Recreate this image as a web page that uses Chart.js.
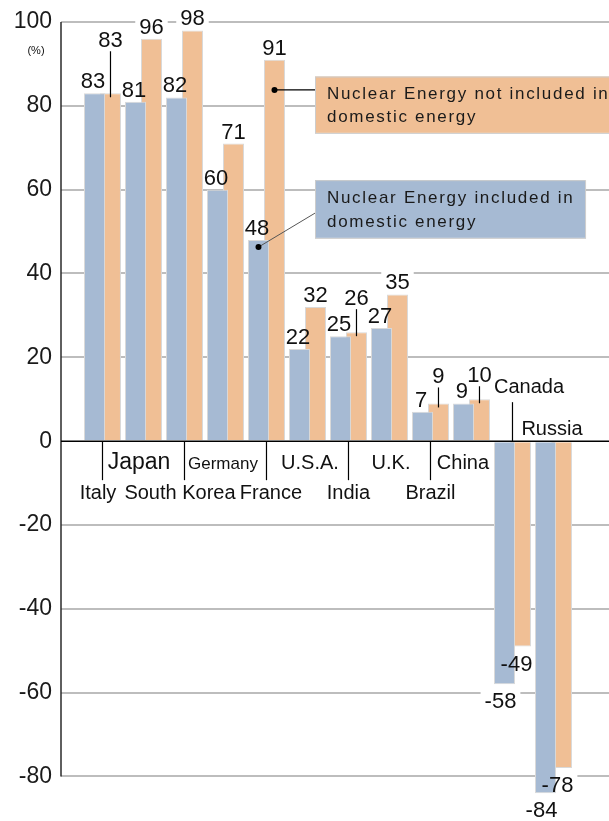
<!DOCTYPE html>
<html>
<head>
<meta charset="utf-8">
<script src="https://cdn.jsdelivr.net/npm/chart.js@4.4.1/dist/chart.umd.min.js"></script>
<style>
    body { margin: 0; background: #fff; }
    #wrap { width: 609px; height: 821px; }
</style>
</head>
<body>
<div id="wrap"><canvas id="myChart"></canvas></div>
<script>
// data
var countries = ["Italy", "Japan", "South Korea", "Germany", "France", "U.S.A.", "India", "U.K.", "Brazil", "China", "Canada", "Russia"];
var included = [83, 81, 82, 60, 48, 22, 25, 27, 7, 9, -58, -84];
var notIncluded = [83, 96, 98, 71, 91, 32, 26, 35, 9, 10, -49, -78];
var yTicks = [100, 80, 60, 40, 20, 0, -20, -40, -60, -80];
var includedText = ["Nuclear Energy included in", "domestic energy"];
var notIncludedText = ["Nuclear Energy not included in", "domestic energy"];

var blue = "#a6bad3";
var orange = "#f0bf95";
var font = "'Liberation Sans', Arial, sans-serif";

// where the country names go: 1 first row, 2 second row with a pointer, 0 above the axis
var nameRow = [2, 1, 2, 1, 2, 1, 2, 1, 2, 1, 0, 0];
var nameShift = [-4.5, -4.5, -4.5, -2.5, 4.5, 2.5, 0, 1.5, 0, -8.5, 16.5, -1.5];
var nameSize = [20, 23, 20, 17, 20, 20, 20, 20, 20, 20, 20, 20];
// orange labels lifted up with a pointer line
var lifted = { 0: 41, 6: 22, 8: 15, 9: 12 };

function valueSpots(chart) {
    var spots = [];
    [included, notIncluded].forEach(function (values, d) {
        var bars = chart.getDatasetMeta(d).data;
        values.forEach(function (v, i) {
            var bar = bars[i];
            var s = { text: String(v), x: bar.x, base: 0, lead: null };
            if (v >= 0) {
                var lift = d === 1 ? (lifted[i] || 0) : 0;
                if (d === 0) s.x -= 1.5;
                s.base = bar.y - 5 - lift;
                if (lift) s.lead = [s.base + 4, bar.y + 4];
            } else {
                s.x -= 4;
                s.base = bar.y + 24;
            }
            spots.push(s);
        });
    });
    return spots;
}

var labelPlugin = {
    id: "labels",
    beforeDatasetsDraw: function (chart) {
        var ctx = chart.ctx;
        ctx.save();
        ctx.font = "22px " + font;
        ctx.fillStyle = "#fff";
        valueSpots(chart).forEach(function (s) {
            var w = ctx.measureText(s.text).width;
            ctx.fillRect(s.x - w / 2 - 4, s.base - 19, w + 8, 23);
        });
        ctx.restore();
    },
    afterDatasetsDraw: function (chart) {
        var ctx = chart.ctx;
        var xs = chart.scales.x;
        var ys = chart.scales.y;
        var area = chart.chartArea;
        var zero = ys.getPixelForValue(0);
        var blueBars = chart.getDatasetMeta(0).data;
        var orangeBars = chart.getDatasetMeta(1).data;
        ctx.save();

        // axis lines
        ctx.strokeStyle = "#2a2a2a";
        ctx.lineWidth = 1.5;
        ctx.beginPath();
        ctx.moveTo(area.left, ys.getPixelForValue(100));
        ctx.lineTo(area.left, ys.getPixelForValue(-80));
        ctx.stroke();
        ctx.strokeStyle = "#000";
        ctx.beginPath();
        ctx.moveTo(area.left, zero);
        ctx.lineTo(area.right, zero);
        ctx.stroke();

        // value labels
        ctx.font = "22px " + font;
        ctx.fillStyle = "#111";
        ctx.textAlign = "center";
        ctx.textBaseline = "alphabetic";
        ctx.lineWidth = 1.2;
        valueSpots(chart).forEach(function (s) {
            ctx.fillText(s.text, s.x, s.base);
            if (s.lead) {
                ctx.beginPath();
                ctx.moveTo(s.x, s.lead[0]);
                ctx.lineTo(s.x, s.lead[1]);
                ctx.stroke();
            }
        });

        // country names
        countries.forEach(function (name, i) {
            var center = (blueBars[i].x + orangeBars[i].x) / 2;
            var row = nameRow[i];
            var base;
            ctx.font = nameSize[i] + "px " + font;
            if (row === 1) {
                base = zero + 28;
            } else if (row === 2) {
                base = zero + 58;
                ctx.beginPath();
                ctx.moveTo(center, zero);
                ctx.lineTo(center, zero + 39);
                ctx.stroke();
            } else if (i === 10) {
                base = zero - 48;
                ctx.beginPath();
                ctx.moveTo(center, zero - 39);
                ctx.lineTo(center, zero);
                ctx.stroke();
            } else {
                base = zero - 6;
            }
            ctx.fillText(name, center + nameShift[i], base);
        });

        // unit
        ctx.font = "11px " + font;
        ctx.fillText("(%)", 36, ys.getPixelForValue(100) + 32);

        // the two boxes naming the series
        function box(fill, x0, x1, v0, v1, lines) {
            var left = xs.getPixelForValue(x0);
            var right = x1 === null ? area.right + 20 : xs.getPixelForValue(x1);
            var top = ys.getPixelForValue(v0);
            var bottom = ys.getPixelForValue(v1);
            ctx.fillStyle = fill;
            ctx.fillRect(left, top, right - left, bottom - top);
            ctx.strokeStyle = "#cccccc";
            ctx.lineWidth = 1;
            ctx.strokeRect(left + 0.5, top + 0.5, right - left, bottom - top);
            var mid = (top + bottom) / 2;
            ctx.fillStyle = "#1a1a1a";
            ctx.font = "17px " + font;
            ctx.textAlign = "left";
            ctx.letterSpacing = "1.7px";
            ctx.fillText(lines[0], left + 12, mid - 6);
            ctx.fillText(lines[1], left + 12, mid + 17.5);
            ctx.letterSpacing = "0px";
            return left;
        }

        function dot(x, y) {
            ctx.fillStyle = "#000";
            ctx.beginPath();
            ctx.arc(x, y, 3, 0, Math.PI * 2);
            ctx.fill();
        }

        var oLeft = box(orange, 5.183, null, 87.0, 73.55, notIncludedText);
        var oy = ys.getPixelForValue(83.8);
        ctx.strokeStyle = "#000";
        ctx.lineWidth = 1.2;
        ctx.beginPath();
        ctx.moveTo(orangeBars[4].x, oy);
        ctx.lineTo(oLeft, oy);
        ctx.stroke();
        dot(orangeBars[4].x, oy);

        var bLeft = box(blue, 5.183, 11.77, 62.27, 48.5, includedText);
        var by = ys.getPixelForValue(46.3);
        ctx.strokeStyle = "#555";
        ctx.lineWidth = 1;
        ctx.beginPath();
        ctx.moveTo(blueBars[4].x, by);
        ctx.lineTo(bLeft, ys.getPixelForValue(54.4));
        ctx.stroke();
        dot(blueBars[4].x, by);

        ctx.restore();
    }
};

var ctx = document.getElementById("myChart").getContext("2d");
window.myChart = new Chart(ctx, {
    type: "bar",
    data: {
        datasets: [
            {
                label: includedText.join(" "),
                data: included.map(function (v, i) { return { x: i, y: v }; }),
                backgroundColor: blue,
                borderColor: "#d9d9d9",
                borderWidth: 1
            },
            {
                label: notIncludedText.join(" "),
                data: notIncluded.map(function (v, i) { return { x: i, y: v }; }),
                backgroundColor: orange,
                borderColor: "#d9d9d9",
                borderWidth: 1
            }
        ]
    },
    options: {
        responsive: true,
        maintainAspectRatio: false,
        animation: false,
        categoryPercentage: 0.78,
        barPercentage: 1.3125,
        layout: { padding: 0 },
        plugins: {
            legend: { display: false },
            tooltip: { enabled: false }
        },
        scales: {
            x: {
                type: "linear",
                display: false,
                offset: false,
                min: -1.012,
                max: 12.354
            },
            y: {
                min: -90.62,
                max: 105.25,
                afterBuildTicks: function (scale) {
                    scale.ticks = yTicks.map(function (v) { return { value: v }; });
                },
                afterFit: function (scale) {
                    scale.width = 61;
                    scale.paddingTop = 0;
                    scale.paddingBottom = 0;
                },
                border: { display: false },
                grid: {
                    drawTicks: false,
                    lineWidth: 2,
                    color: function (c) {
                        return c.tick && c.tick.value === 0 ? "rgba(0,0,0,0)" : "#bdbdbd";
                    }
                },
                ticks: {
                    padding: 9,
                    color: "#1a1a1a",
                    font: { family: font, size: 23 }
                }
            }
        }
    },
    plugins: [labelPlugin]
});
</script>
</body>
</html>
